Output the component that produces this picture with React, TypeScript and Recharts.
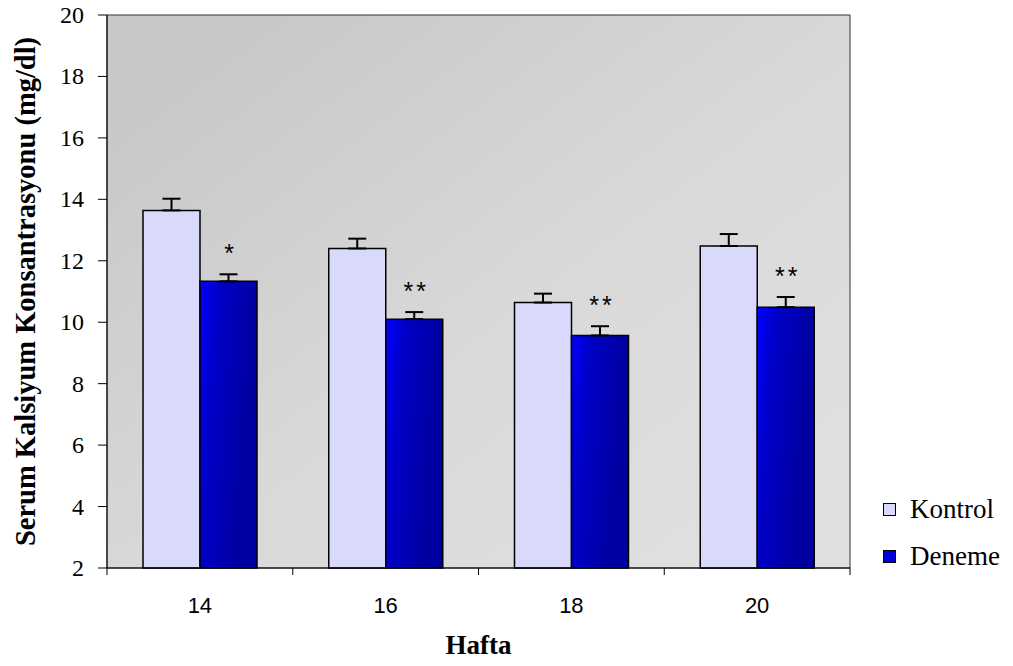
import { BarChart, Bar, XAxis, YAxis, CartesianGrid, ErrorBar, LabelList, Legend, ReferenceArea } from 'recharts';

// weekly serum calcium, mean + SEM per group
const weeks = ['14', '16', '18', '20'];
const kontrol = [13.64, 12.4, 10.64, 12.48];
const kontrolSem = [0.38, 0.32, 0.29, 0.39];
const deneme = [11.33, 10.1, 9.57, 10.49];
const denemeSem = [0.23, 0.23, 0.3, 0.33];
const stars = ['*', '**', '**', '**'];
const yTicks = [2, 4, 6, 8, 10, 12, 14, 16, 18, 20];
const seriesNames = ['Kontrol', 'Deneme'];

const data = weeks.map((w, i) => ({
  hafta: w,
  kontrol: kontrol[i],
  kontrolErr: [0, kontrolSem[i]],
  deneme: deneme[i],
  denemeErr: [0, denemeSem[i]],
  stars: stars[i],
}));

const SERIF = 'Liberation Serif';
const SANS = 'Liberation Sans';

const W = 1013;
const H = 666;
const MARGIN = { top: 15, right: 163, bottom: 0, left: 0 };
const Y_AXIS_W = 107;
const X_AXIS_H = 98;
const BAND = (W - MARGIN.left - MARGIN.right - Y_AXIS_W) / weeks.length;
const Y_MIN = 2;

const swatches: Record<string, string> = { Kontrol: '#d9d9fc', Deneme: '#0000dd' };

// Excel-style ticks sit on the category boundaries, not under the labels
const WeekTick = (props: any) => {
  const { x, y, payload, index } = props;
  return (
    <g>
      <line x1={x - BAND / 2} y1={y} x2={x - BAND / 2} y2={y + 7} stroke="#000" />
      {index === weeks.length - 1 && (
        <line x1={x + BAND / 2} y1={y} x2={x + BAND / 2} y2={y + 7} stroke="#000" />
      )}
      <text x={x} y={y + 37} textAnchor="middle" dominantBaseline="central" fontFamily={SANS} fontSize={22} fill="#000">
        {payload.value}
      </text>
    </g>
  );
};

const ValueTick = (props: any) => {
  const { x, y, payload } = props;
  return (
    <text x={x} y={y} textAnchor="end" dominantBaseline="central" fontFamily={SERIF} fontSize={24} fill="#000">
      {payload.value}
    </text>
  );
};

const YTitle = (props: any) => {
  const { viewBox } = props;
  const cx = viewBox.x + 25;
  const cy = viewBox.y + viewBox.height / 2;
  return (
    <text
      transform={`translate(${cx},${cy}) rotate(-90)`}
      textAnchor="middle"
      dominantBaseline="central"
      fontFamily={SERIF}
      fontWeight="bold"
      fontSize={28.5}
      fill="#000"
    >
      Serum Kalsiyum Konsantrasyonu (mg/dl)
    </text>
  );
};

// significance marks float above the Deneme error cap
const StarLabel = (props: any) => {
  const { x, y, width, height, value, index } = props;
  const ppu = height / (deneme[index] - Y_MIN);
  const capY = y - denemeSem[index] * ppu;
  return (
    <text x={x + width / 2 + 2} y={capY - 12} textAnchor="middle" fontFamily={SANS} fontSize={25} letterSpacing={3} fill="#000">
      {value}
    </text>
  );
};

const renderLegend = () => (
  <div style={{ fontFamily: SERIF, fontSize: 27, color: '#000' }}>
    {seriesNames.map((name) => (
      <div key={name} style={{ display: 'flex', alignItems: 'center', height: 47, fontFamily: SERIF }}>
        <span
          style={{
            width: 11,
            height: 11,
            border: '1.5px solid #000',
            background: swatches[name],
            marginRight: 14,
          }}
        />
        {name}
      </div>
    ))}
  </div>
);

export default function App() {
  return (
    <div style={{ position: 'absolute', left: 0, top: 0, background: '#fff' }}>
      <BarChart width={W} height={H} data={data} margin={MARGIN} barGap={0} barSize={57}>
        <defs>
          <linearGradient id="plotBg" x1="0.1" y1="0.1" x2="0.9" y2="0.9">
            <stop offset="0" stopColor="#c8c8c8" />
            <stop offset="0.55" stopColor="#d9d9d9" />
            <stop offset="1" stopColor="#e0e0e0" />
          </linearGradient>
          <linearGradient id="denemeFill" x1="0" y1="0" x2="1" y2="0.35">
            <stop offset="0" stopColor="#0000ff" />
            <stop offset="0.3" stopColor="#0000c8" />
            <stop offset="0.9" stopColor="#0000a0" />
          </linearGradient>
        </defs>
        <CartesianGrid horizontal={false} vertical={false} fill="url(#plotBg)" />
        <ReferenceArea y1={2} y2={20} fill="none" stroke="#333" strokeWidth={1} />
        <XAxis
          dataKey="hafta"
          height={X_AXIS_H}
          axisLine={{ stroke: '#000' }}
          tickLine={false}
          tickSize={0}
          tickMargin={0}
          tick={<WeekTick />}
          interval={0}
          label={{ value: 'Hafta', position: 'insideBottom', offset: 12, fontFamily: SERIF, fontWeight: 'bold', fontSize: 27, fill: '#000' }}
        />
        <YAxis
          width={Y_AXIS_W}
          domain={[2, 20]}
          ticks={yTicks}
          interval={0}
          axisLine={{ stroke: '#000' }}
          tickLine={{ stroke: '#000' }}
          tickSize={9}
          tickMargin={14}
          tick={<ValueTick />}
          label={<YTitle />}
        />
        <Legend
          layout="vertical"
          align="center"
          verticalAlign="middle"
          content={renderLegend}
          wrapperStyle={{ left: 883, top: 486, width: 'auto' }}
        />
        <Bar dataKey="kontrol" name="Kontrol" fill="#d9d9fc" stroke="#000" strokeWidth={1.5} isAnimationActive={false}>
          <ErrorBar dataKey="kontrolErr" width={9} stroke="#000" strokeWidth={2} direction="y" />
        </Bar>
        <Bar dataKey="deneme" name="Deneme" fill="url(#denemeFill)" stroke="#000" strokeWidth={1.5} isAnimationActive={false}>
          <ErrorBar dataKey="denemeErr" width={9} stroke="#000" strokeWidth={2} direction="y" />
          <LabelList dataKey="stars" content={<StarLabel />} />
        </Bar>
      </BarChart>
    </div>
  );
}
